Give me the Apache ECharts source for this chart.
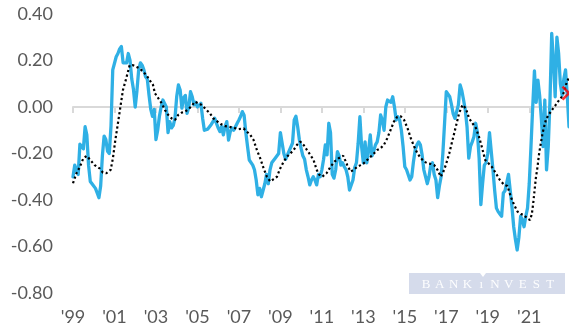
<!DOCTYPE html>
<html>
<head>
<meta charset="utf-8">
<title>Spread vs. 12m average</title>
<script src="https://cdn.jsdelivr.net/npm/echarts@6/dist/echarts.min.js"></script>
<style>
  html, body { margin: 0; padding: 0; background: #ffffff; }
  #chart { width: 569px; height: 334px; }
</style>
</head>
<body>
<div id="chart"></div>
<script>
// Monthly series, first value = January 1999
const startYear = 1999;
const monthlyValues = [
  -0.30, -0.25, -0.27, -0.29, -0.16, -0.16, -0.18, -0.085, -0.12, -0.25,
  -0.32, -0.33, -0.33, -0.35, -0.37, -0.39, -0.34, -0.21, -0.125, -0.14,
  -0.19, -0.20, -0.08, 0.16, 0.167, 0.216, 0.23, 0.25, 0.26, 0.19,
  0.195, 0.19, 0.23, 0.20, 0.12, 0.075, 0.0, 0.07, 0.16, 0.19,
  0.18, 0.16, 0.13, 0.12, 0.05, -0.01, -0.04, -0.01, -0.14, -0.10,
  -0.04, 0.0, 0.03, 0.035, 0.0, -0.11, -0.063, -0.09, -0.08, -0.048,
  0.044, 0.095, 0.073, -0.005, 0.04, 0.05, -0.027, 0.0, 0.066, 0.044,
  0.009, 0.02, 0.0, -0.005, 0.016, -0.048, -0.10, -0.106, -0.095, -0.085,
  -0.075, -0.063, -0.048, -0.07, -0.09, -0.106, -0.084, -0.12, -0.084, -0.063,
  -0.142, -0.106, -0.09, -0.10, -0.106, -0.07, -0.056, -0.04, -0.02, -0.035,
  -0.11, -0.17, -0.228, -0.235, -0.25, -0.27, -0.314, -0.378, -0.35, -0.386,
  -0.39, -0.33, -0.29, -0.33, -0.27, -0.24, -0.235, -0.22, -0.225, -0.20,
  -0.11, -0.105, -0.20, -0.225, -0.22, -0.19, -0.185, -0.156, -0.056, -0.04,
  -0.085, -0.142, -0.178, -0.21, -0.225, -0.27, -0.30, -0.335, -0.314, -0.30,
  -0.314, -0.335, -0.29, -0.30, -0.27, -0.225, -0.163, -0.206, -0.07, -0.11,
  -0.29, -0.306, -0.27, -0.192, -0.21, -0.25, -0.24, -0.257, -0.27, -0.30,
  -0.357, -0.36, -0.314, -0.26, -0.24, -0.156, -0.042, -0.17, -0.24, -0.15,
  -0.24, -0.19, -0.12, -0.21, -0.19, -0.163, -0.15, -0.11, -0.034, -0.056,
  -0.10, 0.0, 0.03, 0.035, 0.02, 0.044, 0.0, -0.056, -0.042, -0.056,
  -0.10, -0.17, -0.257, -0.27, -0.265, -0.314, -0.30, -0.235, -0.185, -0.163,
  -0.15, -0.163, -0.206, -0.27, -0.265, -0.33, -0.30, -0.25, -0.24, -0.29,
  -0.314, -0.39, -0.34, -0.30, -0.20, -0.07, 0.066, 0.07, 0.044, 0.01,
  -0.03, -0.049, -0.056, 0.009, 0.095, 0.07, 0.03, -0.013, -0.085, -0.22,
  -0.17, -0.15, -0.128, -0.07, -0.11, -0.22, -0.42, -0.33, -0.25, -0.24,
  -0.20, -0.11, -0.19, -0.27, -0.36, -0.435, -0.45, -0.46, -0.47, -0.37,
  -0.36, -0.36, -0.29, -0.36, -0.43, -0.515, -0.57, -0.615, -0.56, -0.47,
  -0.486, -0.515, -0.47, -0.435, -0.33, -0.17, 0.0, 0.155, 0.02, 0.116,
  0.05, -0.05, -0.17, 0.03, -0.27, -0.17, 0.03, 0.317, 0.20, 0.044,
  0.30, 0.23, 0.10, 0.05, 0.12, 0.16, 0.05, -0.085
];

// Rolling average, sampled at months since January 1999
const avgMonths = [
  0, 2, 4, 6, 8, 10, 12.5, 15.4, 17.3, 19.3, 21.8, 23.1, 24.5, 26, 27.6, 28.9,
  30.8, 32.8, 34.7, 36.6, 38.6, 40.5, 42.4, 44.3, 46.3, 47.4, 49.4, 51.3, 53.2,
  55.1, 57.1, 59, 60.9, 62.9, 64.8, 66.7, 68.6, 70.6, 72.5, 74.4, 77.3, 79.2,
  81.2, 83.1, 85.4, 87.9, 90.4, 92.7, 95.8, 98.7, 100.6, 102.6, 104.5, 106.4,
  108.3, 110.3, 112.2, 114.1, 116.1, 118, 119.9, 121.9, 123.8, 125.7, 127.7,
  129.6, 131.5, 133.4, 135.4, 137.3, 139.2, 141, 142.3, 144.2, 146.7, 149,
  151.3, 153.8, 156.4, 158.7, 160.6, 162.5, 164.4, 166.4, 168.3, 170.2, 172.2,
  174.1, 176, 177.9, 179.9, 181.8, 183.7, 185.7, 187.6, 189.6, 191.6, 193.6,
  195.5, 197.4, 199.3, 201.3, 203.2, 205.1, 207.1, 209, 210.9, 212.8, 214.2,
  215.7, 217.7, 219.6, 221.5, 223.4, 225.4, 227.3, 229.2, 231.2, 233.1, 235,
  236.5, 238.5, 240.4, 242.3, 244.7, 247, 249.5, 251.4, 253.3, 255.2, 257.2,
  259.1, 261, 263, 264.5, 265.5, 266.3, 267.1, 267.8, 268.8, 269.7, 270.7,
  271.7, 272.6, 273.6, 275.1, 276.5, 277.8, 279.3, 280.6, 282.2, 283.5, 284.7,
  285.8, 287
];
const avgValues = [
  -0.328, -0.285, -0.257, -0.22, -0.21, -0.228, -0.25, -0.264, -0.282, -0.285,
  -0.27, -0.22, -0.142, -0.07, 0.009, 0.073, 0.123, 0.18, 0.18, 0.173,
  0.166, 0.152, 0.138, 0.116, 0.095, 0.059, 0.037, 0.016, -0.013, -0.034,
  -0.049, -0.056, -0.034, -0.024, -0.02, -0.01, 0.004, 0.023, 0.016, 0.009,
  -0.013, -0.027, -0.049, -0.06, -0.073, -0.082, -0.085, -0.089, -0.095, -0.092,
  -0.106, -0.12, -0.142, -0.185, -0.22, -0.264, -0.30, -0.32, -0.31, -0.30,
  -0.264, -0.235, -0.214, -0.20, -0.185, -0.163, -0.149, -0.163, -0.185, -0.206,
  -0.228, -0.27, -0.29, -0.30, -0.285, -0.257, -0.235, -0.22, -0.21, -0.25,
  -0.278, -0.27, -0.257, -0.25, -0.242, -0.228, -0.214, -0.20, -0.185, -0.178,
  -0.163, -0.135, -0.10, -0.063, -0.042, -0.04, -0.056, -0.092, -0.135, -0.17,
  -0.20, -0.22, -0.235, -0.242, -0.245, -0.25, -0.27, -0.30, -0.28, -0.25,
  -0.20, -0.142, -0.085, -0.027, 0.009, -0.006, -0.049, -0.07, -0.09, -0.13,
  -0.17, -0.228, -0.242, -0.257, -0.285, -0.314, -0.335, -0.34, -0.386, -0.42,
  -0.45, -0.46, -0.465, -0.48, -0.486, -0.46, -0.414, -0.357, -0.307, -0.257,
  -0.20, -0.156, -0.113, -0.085, -0.056, -0.034, -0.02, -0.006, 0.009, 0.023,
  0.037, 0.052, 0.08, 0.109, 0.125
];

// Latest reading, flagged with a red cross
const latestMonth = 287;
const latestValue = 0.06;

// Axis settings
const yTicks = [-0.8, -0.6, -0.4, -0.2, 0.0, 0.2, 0.4];
const yearTickMonths = [0, 24, 48, 72, 96, 120, 144, 168, 192, 216, 240, 264];
const lastMonth = monthlyValues.length - 1;

const labelColor = '#595959';
const labelFont = 'Lato';

function yearLabel(m) {
  const y = (startYear + Math.round(m / 12)) % 100;
  return "'" + String(y).padStart(2, '0');
}

const chart = echarts.init(document.getElementById('chart'), null, { renderer: 'canvas' });

const wordmark = ['B', 'A', 'N', 'K', 'ı', 'N', 'V', 'E', 'S', 'T'];

chart.setOption({
  animation: false,
  backgroundColor: '#ffffff',
  grid: { left: 73, right: 0, top: 14, bottom: 41, containLabel: false, outerBoundsMode: 'none' },
  xAxis: [
    {
      type: 'value',
      min: 0,
      max: lastMonth,
      interval: 24,
      position: 'bottom',
      axisLine: { show: false, onZero: false },
      axisTick: { show: false },
      splitLine: { show: false },
      axisLabel: {
        customValues: yearTickMonths,
        formatter: yearLabel,
        color: labelColor,
        fontFamily: labelFont,
        fontSize: 18,
        margin: 15
      }
    },
    {
      type: 'value',
      min: 0,
      max: lastMonth,
      interval: 24,
      position: 'bottom',
      axisLine: { show: true, onZero: true, lineStyle: { color: '#d9d9d9', width: 2 } },
      axisTick: { show: true, length: 6, customValues: yearTickMonths, lineStyle: { color: '#d9d9d9', width: 2 } },
      axisLabel: { show: false },
      splitLine: { show: false }
    }
  ],
  yAxis: {
    type: 'value',
    min: yTicks[0],
    max: yTicks[yTicks.length - 1],
    interval: 0.2,
    axisLine: { show: false },
    axisTick: { show: false },
    splitLine: { show: false },
    axisLabel: {
      formatter: v => v.toFixed(2),
      color: labelColor,
      fontFamily: labelFont,
      fontSize: 18,
      margin: 20
    }
  },
  series: [
    {
      type: 'line',
      xAxisIndex: 0,
      data: monthlyValues.map((v, i) => [i, v]),
      showSymbol: false,
      lineStyle: { color: '#2fb0e5', width: 3.3, join: 'round', cap: 'round' },
      z: 2
    },
    {
      type: 'line',
      xAxisIndex: 0,
      data: avgMonths.map((m, k) => [m, avgValues[k]]),
      showSymbol: false,
      lineStyle: { color: '#000000', width: 2.2, type: [2.2, 2.6] },
      z: 3
    },
    {
      type: 'scatter',
      xAxisIndex: 0,
      data: [[latestMonth, latestValue]],
      clip: false,
      symbol: 'path://M0,0 L10,10 M10,0 L0,10',
      symbolSize: 13,
      itemStyle: { color: 'none', borderColor: '#ff0000', borderWidth: 2.6 },
      z: 4
    }
  ],
  graphic: [
    {
      type: 'rect',
      shape: { x: 409, y: 273, width: 156, height: 21 },
      style: { fill: '#d5dbeb' },
      z: 10
    },
    {
      type: 'polygon',
      shape: { points: [[480, 273], [486, 273], [483, 277]] },
      style: { fill: '#ffffff' },
      z: 11
    }
  ].concat(wordmark.map((ch, k) => ({
    type: 'text',
    x: 426 + 13.8 * k,
    y: 284.5,
    style: {
      text: ch,
      fill: 'rgba(255,255,255,0.95)',
      font: '13px "Liberation Serif", "DejaVu Serif", serif',
      align: 'center',
      verticalAlign: 'middle'
    },
    z: 11
  })))
});
</script>
</body>
</html>
